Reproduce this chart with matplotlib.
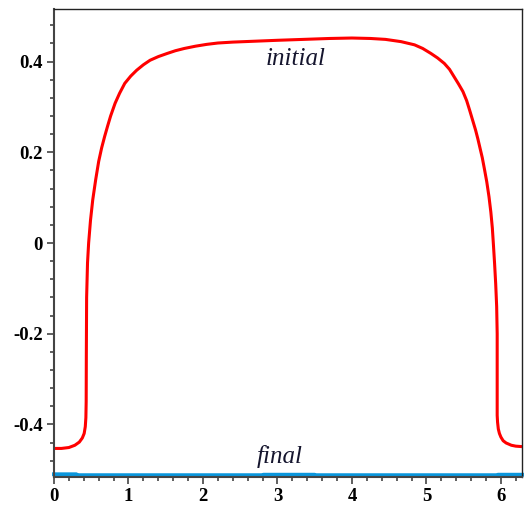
import numpy as np
import matplotlib
matplotlib.use("Agg")
import matplotlib.pyplot as plt
from matplotlib.ticker import FixedLocator, MultipleLocator

# ----- Data -----
x_initial = [0.0, 0.1, 0.2, 0.28, 0.34, 0.38, 0.405, 0.42, 0.428, 0.432,
             0.434, 0.438, 0.45, 0.465, 0.49, 0.52, 0.56, 0.60, 0.64, 0.68,
             0.72, 0.76, 0.82, 0.88, 0.95, 1.03, 1.11, 1.2, 1.29, 1.4,
             1.52, 1.63, 1.75, 1.9, 2.05, 2.2, 2.4, 2.7, 3.0, 3.35,
             3.7, 4.0, 4.25, 4.45, 4.66, 4.84, 4.95, 5.06, 5.15, 5.24,
             5.31, 5.37, 5.43, 5.49, 5.54, 5.58, 5.62, 5.66, 5.69, 5.72,
             5.75, 5.78, 5.81, 5.84, 5.865, 5.885, 5.90, 5.915, 5.93, 5.943,
             5.95, 5.95, 5.955, 5.965, 5.98, 6.0, 6.03, 6.07, 6.14, 6.2,
             6.2832]
y_initial = [-0.453, -0.453, -0.451, -0.446, -0.439, -0.430, -0.420, -0.405, -0.385, -0.35,
             -0.25, -0.12, -0.044, 0.0, 0.05, 0.095, 0.14, 0.18, 0.21, 0.235,
             0.258, 0.28, 0.308, 0.33, 0.352, 0.368, 0.381, 0.393, 0.403, 0.411,
             0.418, 0.424, 0.429, 0.434, 0.438, 0.441, 0.443, 0.445, 0.447, 0.449,
             0.451, 0.452, 0.451, 0.449, 0.444, 0.437, 0.429, 0.418, 0.408, 0.396,
             0.383, 0.367, 0.351, 0.334, 0.314, 0.293, 0.271, 0.249, 0.23, 0.209,
             0.188, 0.162, 0.135, 0.102, 0.068, 0.033, -0.005, -0.045, -0.09, -0.14,
             -0.2, -0.38, -0.395, -0.41, -0.42, -0.428, -0.436, -0.441, -0.446, -0.448,
             -0.449]

x_final = [0.0, 0.3, 0.31, 2.8, 2.81, 3.5, 3.51, 5.95, 5.96, 6.2832]
y_final = [-0.510, -0.510, -0.512, -0.512, -0.511, -0.511, -0.512, -0.512, -0.511, -0.511]

x_ticks = [0, 1, 2, 3, 4, 5, 6]
x_labels = ["0", "1", "2", "3", "4", "5", "6"]
y_ticks = [-0.4, -0.2, 0.0, 0.2, 0.4]
y_labels = ["-0.4", "-0.2", "0", "0.2", "0.4"]

# ----- Figure -----
fig = plt.figure(figsize=(5.25, 5.07), dpi=100)
ax = fig.add_axes([54 / 525, 30 / 507, 468 / 525, 468 / 507])

ax.plot(x_initial, y_initial, color="#ff0000", lw=2.2,
        solid_joinstyle="round", solid_capstyle="butt")
ax.plot(x_final, y_final, color="#0a96dc", lw=2.8, clip_on=False)

ax.text(3.25, 0.406, "initial", family="Liberation Serif", style="italic",
        fontsize=18, color="#15152e", ha="center", va="center")
ax.text(3.03, -0.470, "final", family="Liberation Serif", style="italic",
        fontsize=18, color="#15152e", ha="center", va="center")

ax.set_xlim(0, 2 * np.pi)
ax.set_ylim(-0.516, 0.516)

ax.xaxis.set_major_locator(FixedLocator(x_ticks))
ax.set_xticklabels(x_labels)
ax.xaxis.set_minor_locator(MultipleLocator(0.2))
ax.yaxis.set_major_locator(FixedLocator(y_ticks))
ax.set_yticklabels(y_labels)
ax.yaxis.set_minor_locator(MultipleLocator(0.04))

for lbl in ax.get_xticklabels() + ax.get_yticklabels():
    lbl.set_family("Liberation Serif")
    lbl.set_fontweight("bold")
    lbl.set_fontsize(13.5)

ax.tick_params(which="major", direction="out", length=5, width=1.2,
               color="#444444", pad=3)
ax.tick_params(which="minor", direction="out", length=3, width=1.2,
               color="#444444")

for side in ["left", "bottom"]:
    ax.spines[side].set_color("#444444")
    ax.spines[side].set_linewidth(1.5)
for side in ["top", "right"]:
    ax.spines[side].set_color("#222222")
    ax.spines[side].set_linewidth(1.0)

fig.savefig("out.png", dpi=100)
